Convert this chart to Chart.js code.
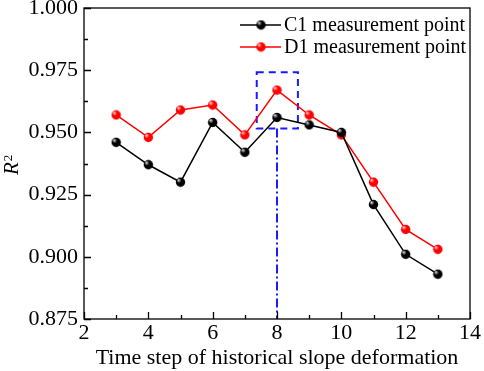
<!DOCTYPE html>
<html>
<head>
<meta charset="utf-8">
<script src="https://cdn.jsdelivr.net/npm/chart.js@4"></script>
<style>
html,body{margin:0;padding:0;background:#fff;}
#wrap{width:484px;height:371px;}
</style>
</head>
<body>
<div id="wrap"><canvas id="c" width="484" height="371"></canvas></div>
<script>
const timeSteps = [3, 4, 5, 6, 7, 8, 9, 10, 11, 12, 13];
const c1Values = [0.946, 0.937, 0.930, 0.954, 0.942, 0.956, 0.953, 0.950, 0.921, 0.901, 0.893];
const d1Values = [0.957, 0.948, 0.959, 0.961, 0.949, 0.967, 0.957, 0.949, 0.930, 0.911, 0.903];
const seriesLabels = ['C1 measurement point', 'D1 measurement point'];
const xTickLabels = [2, 4, 6, 8, 10, 12, 14];
const yTickLabels = [0.875, 0.900, 0.925, 0.950, 0.975, 1.000];
const boxX = [7.37, 8.65];
const boxY = [0.9516, 0.9742];
const markerLineX = [8];

const FONT = '"Liberation Serif", "Times New Roman", serif';

function sphere(color, light) {
  const r = 5;
  const cv = document.createElement('canvas');
  cv.width = 2 * r + 1; cv.height = 2 * r + 1;
  const g = cv.getContext('2d');
  const grad = g.createRadialGradient(r - 1.6, r - 1.8, 0.3, r, r, r);
  grad.addColorStop(0, light);
  grad.addColorStop(0.45, color);
  grad.addColorStop(1, color);
  g.fillStyle = grad;
  g.beginPath(); g.arc(r + 0.5, r + 0.5, r - 0.3, 0, Math.PI * 2); g.fill();
  return cv;
}
const blackBall = sphere('#000000', '#d8d8d8');
const redBall = sphere('#ff0000', '#ffd0d0');

const pts = (ys) => timeSteps.map((x, i) => ({x: x, y: ys[i]}));

const decor = {
  id: 'decor',
  beforeDatasetsDraw(chart) {
    const {ctx, chartArea: a, scales: {x, y}} = chart;
    ctx.save();
    ctx.strokeStyle = '#1a1aff';
    ctx.lineWidth = 2;
    ctx.setLineDash([7, 5]);
    const x0 = x.getPixelForValue(boxX[0]), x1 = x.getPixelForValue(boxX[1]);
    const y0 = y.getPixelForValue(boxY[1]), y1 = y.getPixelForValue(boxY[0]);
    ctx.strokeRect(x0, y0, x1 - x0, y1 - y0);
    ctx.setLineDash([9, 3, 2, 3]);
    markerLineX.forEach(v => {
      const px = x.getPixelForValue(v);
      ctx.beginPath(); ctx.moveTo(px, y1); ctx.lineTo(px, a.bottom); ctx.stroke();
    });
    ctx.restore();
  },
  afterDraw(chart) {
    const {ctx, chartArea: a, scales: {x, y}} = chart;
    ctx.save();
    ctx.strokeStyle = '#000';
    ctx.lineWidth = 1.3;
    ctx.setLineDash([]);
    ctx.strokeRect(a.left, a.top, a.right - a.left, a.bottom - a.top);
    ctx.beginPath();
    for (let v = 2; v <= 14; v += 1) {
      const px = Math.round(x.getPixelForValue(v)) + 0.5;
      const len = (v % 2 === 0) ? 7 : 4;
      ctx.moveTo(px, a.bottom); ctx.lineTo(px, a.bottom - len);
    }
    for (let i = 0; i <= 10; i++) {
      const v = 0.875 + i * 0.0125;
      const py = Math.round(y.getPixelForValue(v)) + 0.5;
      const len = (i % 2 === 0) ? 7 : 4;
      ctx.moveTo(a.left, py); ctx.lineTo(a.left + len, py);
    }
    ctx.stroke();

    // y axis title R^2
    ctx.fillStyle = '#000';
    ctx.translate(18, 175);
    ctx.rotate(-Math.PI / 2);
    ctx.textBaseline = 'alphabetic';
    ctx.font = 'italic 21px ' + FONT;
    const w = ctx.measureText('R').width;
    ctx.fillText('R', 0, 0);
    ctx.font = '13px ' + FONT;
    ctx.fillText('2', w + 1, -6);
    ctx.setTransform(1, 0, 0, 1, 0, 0);

    // legend
    const items = [
      {label: seriesLabels[0], color: '#000', img: blackBall},
      {label: seriesLabels[1], color: '#ff0000', img: redBall}
    ];
    ctx.font = '20px ' + FONT;
    ctx.textBaseline = 'middle';
    items.forEach((it, i) => {
      const yy = 25 + i * 22;
      ctx.strokeStyle = it.color; ctx.lineWidth = 1.5;
      ctx.beginPath(); ctx.moveTo(240, yy); ctx.lineTo(281, yy); ctx.stroke();
      ctx.drawImage(it.img, 261 - 5.5, yy - 5.5);
      ctx.fillStyle = '#000';
      ctx.fillText(it.label, 284, yy + 1);
    });
    ctx.restore();
  }
};

new Chart(document.getElementById('c'), {
  type: 'line',
  data: {
    datasets: [
      {label: seriesLabels[0], data: pts(c1Values), borderColor: '#000', borderWidth: 1.5,
       pointStyle: blackBall, pointRadius: 5, tension: 0},
      {label: seriesLabels[1], data: pts(d1Values), borderColor: '#ff0000', borderWidth: 1.5,
       pointStyle: redBall, pointRadius: 5, tension: 0}
    ]
  },
  options: {
    responsive: false,
    animation: false,
    events: [],
    layout: {padding: {top: 8, right: 14, left: 0, bottom: 0}},
    plugins: {legend: {display: false}, tooltip: {enabled: false}},
    scales: {
      x: {
        type: 'linear', min: 2, max: 14,
        afterBuildTicks: (s) => { s.ticks = xTickLabels.map(v => ({value: v})); },
        grid: {display: false, drawTicks: false},
        border: {display: false},
        ticks: {color: '#000', font: {family: FONT, size: 22}, padding: 1, maxRotation: 0,
                callback: (v) => String(v)},
        title: {display: true, text: 'Time step of historical slope deformation', color: '#000',
                font: {family: FONT, size: 22}, padding: {top: -4, bottom: 0}},
        afterFit: (s) => { s.height = 52; s.paddingLeft = 0; s.paddingRight = 0; }
      },
      y: {
        type: 'linear', min: 0.875, max: 1.0,
        afterBuildTicks: (s) => { s.ticks = yTickLabels.map(v => ({value: v})); },
        grid: {display: false, drawTicks: false},
        border: {display: false},
        ticks: {color: '#000', font: {family: FONT, size: 22}, padding: 6,
                callback: (v) => Number(v).toFixed(3)},
        afterFit: (s) => { s.width = 84; s.paddingTop = 0; s.paddingBottom = 0; }
      }
    }
  },
  plugins: [decor]
});
</script>
</body>
</html>
